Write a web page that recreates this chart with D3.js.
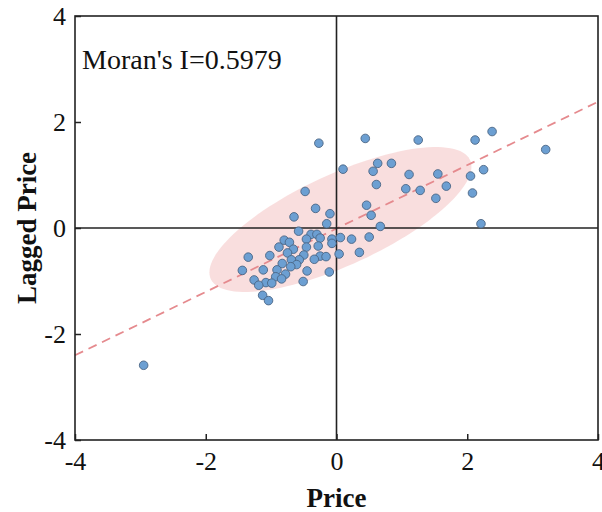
<!DOCTYPE html>
<html>
<head>
<meta charset="utf-8">
<script src="https://cdn.jsdelivr.net/npm/d3@7"></script>
<style>
  html, body { margin: 0; padding: 0; background: #fff; }
  svg { display: block; font-family: "Liberation Serif", "Times New Roman", serif; }
</style>
</head>
<body>
<svg id="chart" width="602" height="512"></svg>
<script>
// standardized price vs spatially lagged price
const priceX = [-0.27, 0.10, -0.48, -0.32, -0.10, -0.65, -0.15, -0.58, -0.39, -0.30,
  -0.25, -0.46, -0.07, 0.06, 0.23, 0.50, -0.07, -0.80, -0.72, -0.88,
  -0.46, -0.28, -0.66, -0.75, -1.35, -1.02, -0.50, -0.25, -0.16, 0.04,
  0.35, -0.34, -0.57, -0.69, -0.83, -0.61, -0.70, -1.44, -1.12, -0.91,
  -0.45, -0.11, -0.78, -0.93, -0.84, -1.26, -1.08, -0.99, -0.51, -1.19,
  -1.13, -1.04, 0.63, 0.84, 0.56, 1.11, 1.55, 2.05, 2.25, 0.61,
  1.68, 1.06, 1.28, 2.08, 1.52, 0.46, 0.53, 0.67, 2.21, 0.44,
  1.25, 2.12, 2.38, 3.20, -2.95];
const laggedY = [1.60, 1.11, 0.69, 0.37, 0.27, 0.21, 0.08, -0.06, -0.12, -0.12,
  -0.19, -0.21, -0.21, -0.18, -0.21, -0.17, -0.29, -0.23, -0.27, -0.36,
  -0.36, -0.34, -0.40, -0.47, -0.55, -0.52, -0.51, -0.53, -0.54, -0.49,
  -0.46, -0.59, -0.60, -0.60, -0.67, -0.69, -0.73, -0.80, -0.79, -0.79,
  -0.81, -0.83, -0.87, -0.92, -0.96, -0.98, -1.03, -1.04, -1.01, -1.08,
  -1.27, -1.37, 1.22, 1.22, 1.07, 1.01, 1.02, 0.98, 1.10, 0.82,
  0.79, 0.74, 0.71, 0.66, 0.56, 0.43, 0.24, 0.03, 0.08, 1.69,
  1.66, 1.66, 1.82, 1.48, -2.59];

const xTicks = [-4, -2, 0, 2, 4];
const yTicks = [-4, -2, 0, 2, 4];
const moranI = 0.5979;
const fitIntercept = -0.01;
// confidence ellipse: centre, end of major axis, end of minor axis (data units)
const ellipseCenter = [0.06, 0.16];
const ellipseMajor = [2.04, 1.29];
const ellipseMinor = [-0.25, 0.93];

const svg = d3.select("#chart");
const plotL = 75, plotR = 598, plotT = 16, plotB = 440;

const x = d3.scaleLinear().domain([-4, 4]).range([plotL, plotR]);
const y = d3.scaleLinear().domain([-4, 4]).range([plotB, plotT]);

// ellipse
const ePts = d3.range(0, 360, 3).map(deg => {
  const t = deg * Math.PI / 180;
  const px = ellipseCenter[0] + Math.cos(t) * (ellipseMajor[0] - ellipseCenter[0]) + Math.sin(t) * (ellipseMinor[0] - ellipseCenter[0]);
  const py = ellipseCenter[1] + Math.cos(t) * (ellipseMajor[1] - ellipseCenter[1]) + Math.sin(t) * (ellipseMinor[1] - ellipseCenter[1]);
  return [x(px), y(py)];
});
svg.append("path")
  .attr("d", d3.line().curve(d3.curveLinearClosed)(ePts))
  .attr("fill", "#f5c8c8")
  .attr("fill-opacity", 0.6)
  .attr("stroke", "none");

// regression line
svg.append("line")
  .attr("x1", x(-4)).attr("y1", y(moranI * -4 + fitIntercept))
  .attr("x2", x(4)).attr("y2", y(moranI * 4 + fitIntercept))
  .attr("stroke", "#e58a8e")
  .attr("stroke-width", 1.8)
  .attr("stroke-dasharray", "9,6");

// crosshair at origin
svg.append("line")
  .attr("x1", x(0)).attr("x2", x(0)).attr("y1", plotT).attr("y2", plotB)
  .attr("stroke", "#222").attr("stroke-width", 1.6);
svg.append("line")
  .attr("x1", plotL).attr("x2", plotR).attr("y1", y(0)).attr("y2", y(0))
  .attr("stroke", "#222").attr("stroke-width", 1.6);

// points
svg.append("g").selectAll("circle")
  .data(priceX.map((v, i) => [v, laggedY[i]]))
  .enter().append("circle")
  .attr("cx", d => x(d[0]))
  .attr("cy", d => y(d[1]))
  .attr("r", 4.3)
  .attr("fill", "#6c9fd2")
  .attr("stroke", "#4b6584")
  .attr("stroke-width", 0.9);

// axes (inward ticks, plain hyphen minus like the source)
const xAxis = svg.append("g")
  .attr("transform", `translate(0,${plotB})`)
  .call(d3.axisBottom(x).tickValues(xTicks).tickFormat(d => String(d))
    .tickSizeInner(-6).tickSizeOuter(0).tickPadding(12));
const yAxis = svg.append("g")
  .attr("transform", `translate(${plotL},0)`)
  .call(d3.axisLeft(y).tickValues(yTicks).tickFormat(d => String(d))
    .tickSizeInner(-6).tickSizeOuter(0).tickPadding(9));

[xAxis, yAxis].forEach(g => {
  g.select(".domain").remove();
  g.selectAll(".tick line").attr("stroke", "#222").attr("stroke-width", 1.5);
  g.selectAll(".tick text")
    .attr("fill", "#111")
    .style("font-family", '"Liberation Serif", serif')
    .style("font-size", "26px");
});

// frame
svg.append("rect")
  .attr("x", plotL).attr("y", plotT)
  .attr("width", plotR - plotL).attr("height", plotB - plotT)
  .attr("fill", "none").attr("stroke", "#222").attr("stroke-width", 1.6);

// annotation
svg.append("text")
  .attr("x", 82).attr("y", 69)
  .attr("font-size", 28)
  .attr("fill", "#111")
  .text("Moran's I=" + moranI.toFixed(4));

// axis titles
svg.append("text")
  .attr("x", x(0)).attr("y", 507)
  .attr("text-anchor", "middle")
  .attr("font-size", 27).attr("font-weight", "bold")
  .attr("fill", "#111")
  .text("Price");
svg.append("text")
  .attr("transform", `translate(36,${y(0)}) rotate(-90)`)
  .attr("text-anchor", "middle")
  .attr("font-size", 27).attr("font-weight", "bold")
  .attr("fill", "#111")
  .text("Lagged Price");
</script>
</body>
</html>
